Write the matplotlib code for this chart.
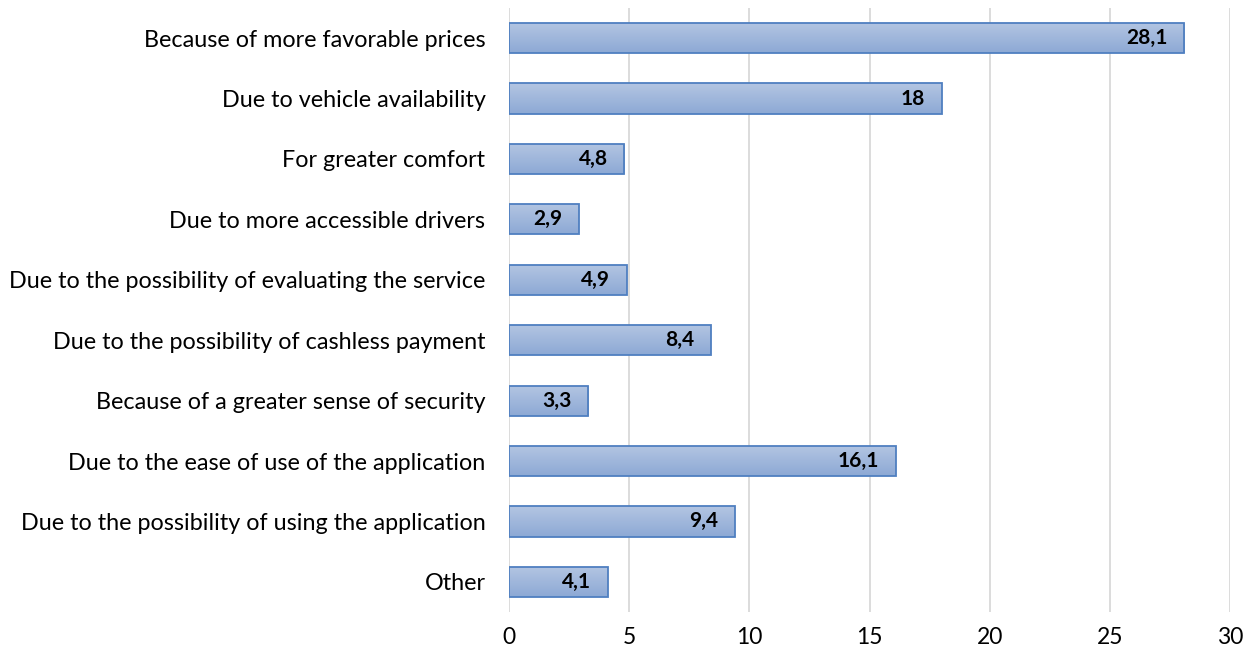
import matplotlib
matplotlib.use("Agg")
import matplotlib.pyplot as plt
import numpy as np
from matplotlib.colors import LinearSegmentedColormap

categories = [
    "Because of more favorable prices",
    "Due to vehicle availability",
    "For greater comfort",
    "Due to more accessible drivers",
    "Due to the possibility of evaluating the service",
    "Due to the possibility of cashless payment",
    "Because of a greater sense of security",
    "Due to the ease of use of the application",
    "Due to the possibility of using the application",
    "Other",
]
values = [28.1, 18, 4.8, 2.9, 4.9, 8.4, 3.3, 16.1, 9.4, 4.1]
value_labels = ["28,1", "18", "4,8", "2,9", "4,9", "8,4", "3,3", "16,1", "9,4", "4,1"]
xticks = [0, 5, 10, 15, 20, 25, 30]

plt.rcParams['font.family'] = ['Lato', 'DejaVu Sans']

fig = plt.figure(figsize=(12.5, 6.54), dpi=100)
ax = fig.add_axes([0.4072, 0.0642, 0.984 - 0.4072, 0.9878 - 0.0642])

n = len(categories)
ypos = np.arange(n)
h = 0.5
cmap = LinearSegmentedColormap.from_list("g", ["#b3c5e2", "#8da9d5"])
grad = np.linspace(0, 1, 64).reshape(-1, 1)

bars = ax.barh(ypos, values, height=h, color="none", edgecolor="#4f7fc0", linewidth=1.3, zorder=3)
for b, v, lab in zip(bars, values, value_labels):
    x0, y0 = b.get_x(), b.get_y()
    w, hh = b.get_width(), b.get_height()
    im = ax.imshow(grad, cmap=cmap, aspect="auto", extent=[x0, x0 + w, y0 + hh, y0],
                   origin="upper", zorder=2, interpolation="bicubic")
    im.set_clip_path(b)
    ax.annotate(lab, xy=(v, b.get_y() + hh / 2), xytext=(-12, 0), textcoords="offset points",
                ha="right", va="center", fontsize=15, fontweight="bold", color="black", zorder=4)

ax.set_xlim(0, 30)
ax.set_ylim(n - 0.5, -0.5)
ax.set_yticks(ypos)
ax.set_yticklabels(categories, fontsize=16.8)
ax.set_xticks(xticks)
ax.set_xticklabels([str(t) for t in xticks], fontsize=16.5)
ax.xaxis.grid(True, color="#d9d9d9", linewidth=1.3, zorder=0)
ax.set_axisbelow(True)
for s in ax.spines.values():
    s.set_visible(False)
ax.tick_params(axis="both", length=0)
ax.tick_params(axis="y", pad=17)
ax.tick_params(axis="x", pad=11)

fig.savefig("out.png", dpi=100)
